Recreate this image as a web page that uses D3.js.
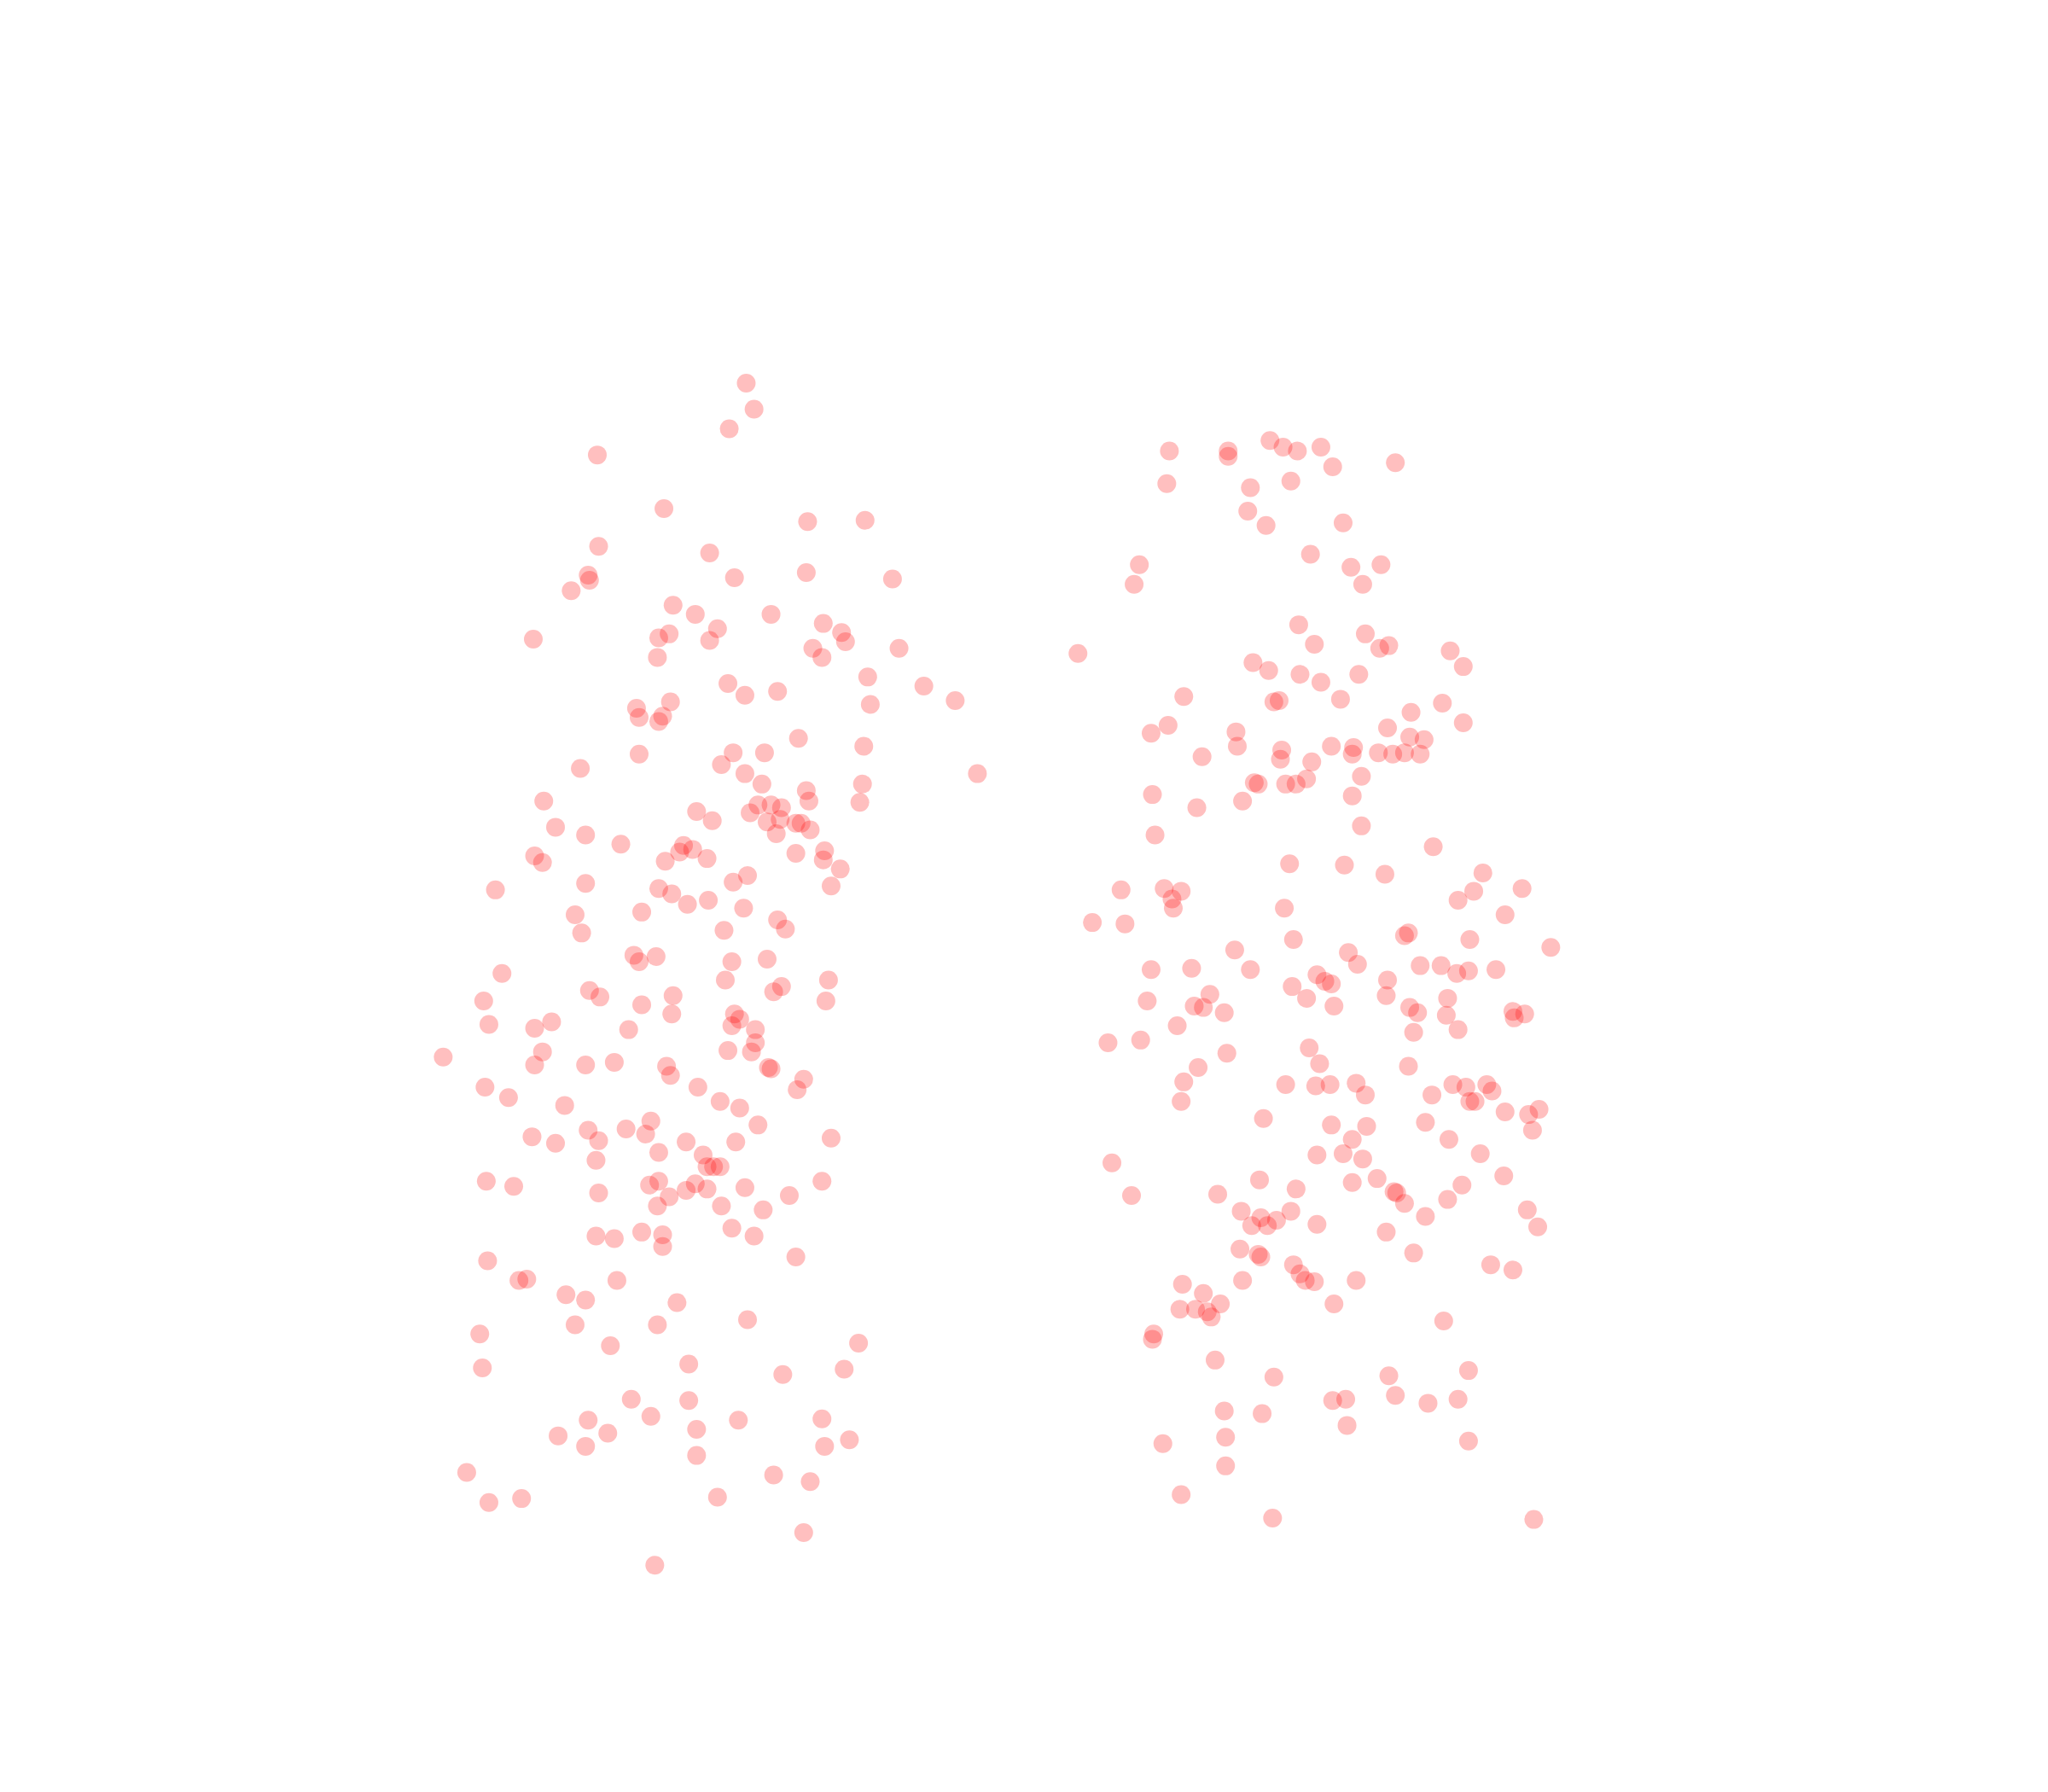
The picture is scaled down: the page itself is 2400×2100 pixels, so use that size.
<!DOCTYPE html>
<html>
<head>
<meta charset="utf-8">
<script src="https://cdn.jsdelivr.net/npm/d3@7"></script>
<style>
html,body{margin:0;padding:0;background:#fff;}
svg{display:block;}
</style>
</head>
<body>
<script>
const seriesNames = ["A", "B"];
const seriesAX = [571,577,558,457,508,618,662,458,543,450,451,437,562,617,683,515,532,590,630,549,644,512,504,543,408,622,647,629,688,503,664,557,570,595,707,731,513,666,487,489,507,504,611,661,489,561,585,552,444,570,748,583,660,617,416,658,580,590,598,619,574,533,545,587,597,609,613,425,620,594,448,475,523,530,520,631,409,415,509,541,609,630,643,572,561,448,379,636,504,514,526,542,569,491,440,595,601,554,445,485,489,502,560,587,384,634,555,598,592,451,459,370,491,515,514,632,562,566,560,374,409,422,481,578,578,339,415,557,575,409,448,470,510,513,588,590,615,610,371,389,534,551,566,432,580,498,450,479,494,407,425,458,525,563,636,504,538,456,541,551,546,372,393,497,504,532,541,525,570,629,604,458,512,503,552,584,560,491,507,577,456,470,507,609,373,472,397,403,433,448,518,572,440,503,367,467,657,369,527,599,646,483,527,498,450,565,629,533,465,427,448,631,650,533,357,592,620,374,399,549,615,501];
const seriesAY = [293,313,328,348,389,399,398,418,423,440,444,452,442,438,443,463,470,470,477,481,484,485,488,490,489,496,491,503,496,503,518,523,532,529,525,536,537,539,542,549,548,552,565,571,577,576,576,585,588,592,592,600,600,605,613,614,616,616,618,613,622,621,628,629,627,630,630,633,635,638,639,646,647,650,652,651,655,660,659,657,653,658,665,670,675,676,681,678,680,684,692,689,695,698,700,704,711,712,714,731,736,732,736,734,745,750,750,755,759,758,763,766,769,762,776,766,776,780,785,784,787,782,788,788,798,809,805,804,805,815,815,813,816,823,817,818,826,834,832,840,832,843,848,846,861,858,865,864,868,870,875,873,874,874,871,882,884,888,893,893,893,904,908,907,904,906,910,911,909,904,915,913,916,923,923,926,940,943,945,946,946,948,954,962,965,980,980,979,991,995,997,1010,1014,1014,1021,1030,1028,1047,1044,1052,1048,1071,1072,1084,1087,1087,1086,1094,1097,1099,1107,1107,1102,1114,1127,1129,1134,1150,1147,1146,1173,1198];
const seriesBX = [895,940,940,972,982,993,1011,1020,1068,893,957,988,955,969,1028,1003,1034,1057,872,868,1043,994,1045,1006,1056,1063,1110,1120,825,959,971,995,1011,1040,1026,906,975,979,1080,1104,1120,881,894,946,947,1062,1079,1090,1019,1036,1035,1055,1066,1075,1087,981,980,920,1004,1042,960,963,984,992,1000,882,1035,951,916,1042,884,1097,987,1029,1060,1135,858,891,904,897,898,1128,1165,1116,983,1152,836,861,1078,1075,990,1125,1187,945,1032,1039,881,912,957,1087,1103,1115,1124,1145,1008,1014,989,1019,1062,926,1000,878,914,921,937,1061,1079,1085,1108,1021,1107,1158,1167,1159,901,1082,1116,848,873,939,1002,1010,917,1078,906,984,1007,1018,1038,1112,1122,1138,1096,1045,1125,1129,1142,904,1152,1170,1178,967,1019,1046,1091,1173,1035,1109,1008,1028,1043,1133,851,964,1035,1054,1119,1151,866,932,992,1067,1069,1075,1108,950,988,1091,1169,958,970,965,977,1008,1061,1177,949,963,965,1082,990,995,999,1006,1038,951,1141,1158,905,921,934,1021,903,915,927,924,883,882,1105,930,975,1063,1124,1068,1020,1030,1093,1116,937,966,1031,938,890,1124,938,904,974,1174];
const seriesBY = [345,345,349,337,342,345,342,357,354,370,373,368,391,402,400,424,434,432,432,447,447,478,485,493,496,494,498,510,500,507,513,516,522,516,535,533,537,536,545,538,553,561,555,560,571,557,564,566,571,572,577,576,577,576,577,574,581,579,583,594,599,600,600,600,596,608,609,613,618,632,639,648,661,662,669,668,681,680,682,688,695,682,680,689,695,700,706,707,714,716,719,719,725,727,729,738,742,741,742,739,739,745,743,742,746,751,755,753,750,761,764,766,770,771,775,762,771,775,764,770,777,774,776,779,785,790,788,798,796,806,802,814,817,816,828,830,831,830,829,830,832,830,838,838,843,843,835,843,851,853,849,856,861,862,859,865,872,872,884,883,887,883,890,903,905,902,907,900,915,914,910,912,913,921,918,927,927,931,926,938,938,932,934,937,943,939,956,960,962,959,968,975,980,981,980,980,968,972,983,990,998,998,1002,1002,1008,1004,1021,1025,1011,1041,1054,1053,1049,1068,1072,1071,1074,1071,1080,1082,1091,1100,1105,1103,1122,1144,1162,1163];

const W = 2400, H = 2100;
const x = d3.scaleLinear().domain([0, 1568]).range([0, W]);
const y = d3.scaleLinear().domain([0, 1372]).range([0, H]);

const groups = [
  {name: seriesNames[0], xs: seriesAX, ys: seriesAY},
  {name: seriesNames[1], xs: seriesBX, ys: seriesBY}
];
const points = groups.flatMap(g => g.xs.map((v, i) => ({group: g.name, x: v, y: g.ys[i]})));

const svg = d3.select("body").append("svg").attr("width", W).attr("height", H);
svg.append("rect").attr("width", W).attr("height", H).attr("fill", "#ffffff");
svg.append("g").selectAll("circle").data(points).join("circle")
  .attr("cx", d => x(d.x) + 0.5)
  .attr("cy", d => y(d.y) + 0.5)
  .attr("r", 11)
  .attr("fill", "#ff0000")
  .attr("fill-opacity", 0.25);
</script>
</body>
</html>
